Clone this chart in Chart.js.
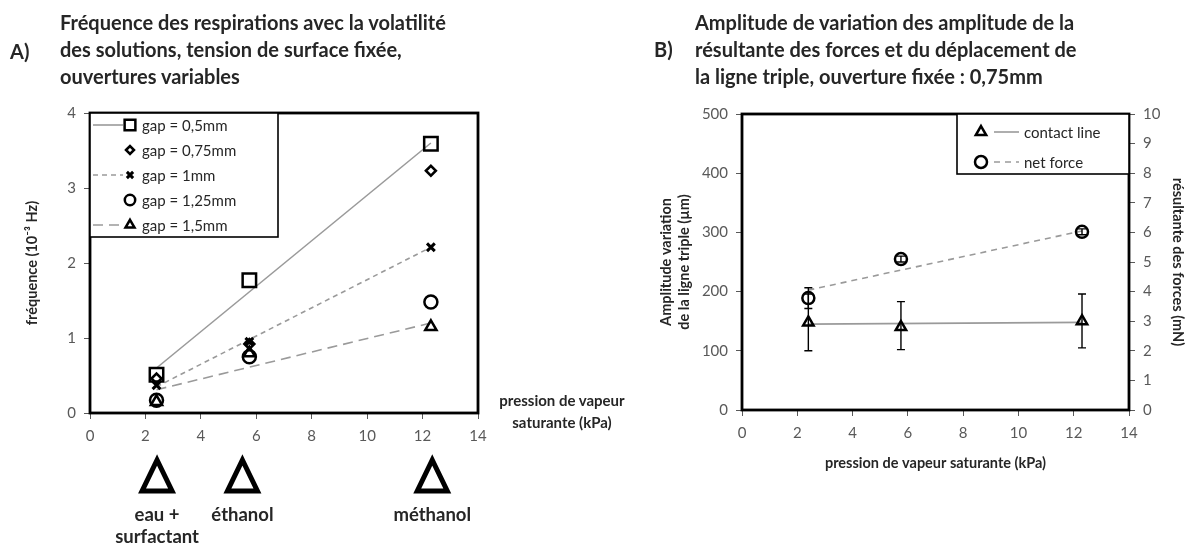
<!DOCTYPE html>
<html lang="fr">
<head>
<meta charset="UTF-8">
<title>Respirations - volatilité des solutions</title>
<script src="https://cdn.jsdelivr.net/npm/chart.js"></script>
<style>
    body { margin: 0; background: #fff; font-family: Lato, sans-serif; }
    #page { position: relative; width: 1195px; height: 546px; overflow: hidden; }
    .panel, .title, .axisNote { position: absolute; font-weight: bold; color: #262626; }
    .panel { font-size: 20px; line-height: 27px; }
    .title { font-size: 20px; line-height: 27px; white-space: nowrap; }
    .axisNote { font-size: 15px; line-height: 22px; text-align: center; }
    canvas { position: absolute; top: 0; }
</style>
</head>
<body>
<div id="page">
    <canvas id="chartA" width="640" height="546" style="left:0"></canvas>
    <canvas id="chartB" width="555" height="546" style="left:640px"></canvas>

    <div class="panel" style="left:10px; top:38px">A)</div>
    <div class="title" style="left:60px; top:9px">Fréquence des respirations avec la volatilité<br>des solutions, tension de surface fixée,<br>ouvertures variables</div>
    <div class="axisNote" style="left:482px; top:389px; width:160px">pression de vapeur<br>saturante (kPa)</div>

    <div class="panel" style="left:654px; top:36px">B)</div>
    <div class="title" style="left:695px; top:9px">Amplitude de variation des amplitude de la<br>résultante des forces et du déplacement de<br>la ligne triple, ouverture fixée : 0,75mm</div>
</div>

<script>
"use strict";

// pressions de vapeur saturante (kPa) des trois solutions
const pressures = [2.4, 5.75, 12.3];

// A) fréquence (10^-3 Hz) pour chaque ouverture
const gapLabels = ['gap = 0,5mm', 'gap = 0,75mm', 'gap = 1mm', 'gap = 1,25mm', 'gap = 1,5mm'];
const gap050 = [0.51, 1.77, 3.59];
const gap075 = [0.46, 0.92, 3.23];
const gap100 = [0.37, 0.95, 2.21];
const gap125 = [0.17, 0.75, 1.48];
const gap150 = [0.15, 0.80, 1.15];

// droites de tendance (extrémités)
const trendX = [2.4, 12.3];
const trend050 = [0.60, 3.60];
const trend100 = [0.35, 2.21];
const trend150 = [0.31, 1.20];

// solutions sous l'axe
const solventX = [2.42, 5.5, 12.35];
const solventNames = [['eau +', 'surfactant'], ['éthanol'], ['méthanol']];

// B) ligne triple (µm) et résultante des forces (mN)
const bLabels = ['contact line', 'net force'];
const contactLine = [148, 140, 150];
const contactLow = [100, 102, 105];
const contactHigh = [196, 183, 196];
const netForce = [3.78, 5.10, 6.02];
const netForceLow = [3.43, 5.00, 5.92];
const netForceHigh = [4.13, 5.20, 6.12];
const contactTrend = [145, 148];
const forceTrend = [4.05, 6.05];

const INK = '#000';
const TICK = '#595959';
const TREND = '#9a9a9a';

function points(xs, ys) {
    return xs.map((x, i) => ({ x: x, y: ys[i] }));
}

function markerSet(label, data, style, radius, width, yAxisID) {
    return {
        label: label, data: points(pressures, data), showLine: false,
        pointStyle: style, pointRadius: radius, pointHoverRadius: radius,
        pointBorderWidth: width, pointBorderColor: INK,
        pointBackgroundColor: 'rgba(255,255,255,0)', borderColor: INK,
        yAxisID: yAxisID || 'y'
    };
}

function trendSet(data, dash, yAxisID) {
    return {
        label: '', data: points(trendX, data), borderColor: TREND, borderWidth: 1.6,
        borderDash: dash, pointRadius: 0, fill: false, yAxisID: yAxisID || 'y'
    };
}

function drawMarker(ctx, ds, x, y, scale) {
    ctx.save();
    ctx.strokeStyle = INK;
    ctx.fillStyle = 'rgba(255,255,255,0)';
    ctx.lineWidth = ds.pointBorderWidth;
    Chart.helpers.drawPoint(ctx, {
        pointStyle: ds.pointStyle, rotation: 0,
        radius: ds.pointRadius * (scale || 1), borderWidth: ds.pointBorderWidth
    }, x, y);
    ctx.restore();
}

// cadre épais autour de la zone de tracé
const framePlugin = {
    id: 'frame',
    afterDatasetsDraw(chart) {
        const a = chart.chartArea, ctx = chart.ctx;
        ctx.save();
        ctx.strokeStyle = INK;
        ctx.lineWidth = 2.8;
        ctx.strokeRect(a.left, a.top, a.right - a.left, a.bottom - a.top);
        ctx.restore();
    }
};

// barres d'erreur
function errorBarPlugin(bars) {
    return {
        id: 'errorBars',
        afterDatasetsDraw(chart) {
            const ctx = chart.ctx;
            ctx.save();
            ctx.strokeStyle = INK;
            ctx.lineWidth = 1.4;
            bars.forEach(b => {
                const meta = chart.getDatasetMeta(b.dataset);
                const xs = chart.scales[meta.xAxisID], ys = chart.scales[meta.yAxisID];
                pressures.forEach((p, i) => {
                    const px = xs.getPixelForValue(p);
                    const lo = ys.getPixelForValue(b.low[i]);
                    const hi = ys.getPixelForValue(b.high[i]);
                    ctx.beginPath();
                    ctx.moveTo(px, lo); ctx.lineTo(px, hi);
                    ctx.moveTo(px - 4, lo); ctx.lineTo(px + 4, lo);
                    ctx.moveTo(px - 4, hi); ctx.lineTo(px + 4, hi);
                    ctx.stroke();
                });
            });
            ctx.restore();
        }
    };
}

// légende encadrée dans la zone de tracé
function boxLegendPlugin(entries, box) {
    return {
        id: 'boxLegend',
        afterDraw(chart) {
            const a = chart.chartArea, ctx = chart.ctx;
            const left = box.alignRight ? a.right - box.width : a.left;
            const top = a.top;
            ctx.save();
            ctx.fillStyle = '#fff';
            ctx.fillRect(left, top, box.width, box.height);
            ctx.strokeStyle = INK;
            ctx.lineWidth = 1.6;
            ctx.strokeRect(left, top, box.width, box.height);
            entries.forEach((e, i) => {
                const cy = top + box.firstRow + i * box.rowStep;
                const ds = chart.data.datasets;
                if (e.line !== undefined) {
                    const l = ds[e.line];
                    ctx.save();
                    ctx.strokeStyle = l.borderColor;
                    ctx.lineWidth = l.borderWidth;
                    ctx.setLineDash(l.borderDash || []);
                    ctx.beginPath();
                    ctx.moveTo(left + box.lineFrom, cy);
                    ctx.lineTo(left + box.lineTo, cy);
                    ctx.stroke();
                    ctx.restore();
                }
                drawMarker(ctx, ds[e.marker], left + box.markerX, cy, box.markerScale);
                ctx.fillStyle = '#262626';
                ctx.font = '15px Lato';
                ctx.textBaseline = 'middle';
                ctx.textAlign = 'left';
                ctx.fillText(e.label, left + box.textX, cy + 1);
            });
            ctx.restore();
        }
    };
}

// triangles et noms des solutions sous l'axe des abscisses
const solventPlugin = {
    id: 'solvents',
    afterDraw(chart) {
        const ctx = chart.ctx, xs = chart.scales.x, base = chart.chartArea.bottom;
        ctx.save();
        ctx.strokeStyle = INK;
        ctx.lineWidth = 5;
        ctx.lineJoin = 'miter';
        ctx.fillStyle = '#262626';
        ctx.font = 'bold 18.5px Lato';
        ctx.textAlign = 'center';
        ctx.textBaseline = 'middle';
        solventX.forEach((v, i) => {
            const px = xs.getPixelForValue(v);
            ctx.beginPath();
            ctx.moveTo(px, base + 47);
            ctx.lineTo(px + 15, base + 78);
            ctx.lineTo(px - 15, base + 78);
            ctx.closePath();
            ctx.stroke();
            solventNames[i].forEach((t, k) => ctx.fillText(t, px, base + 102 + k * 22));
        });
        ctx.restore();
    }
};

const tickFont = { family: 'Lato', size: 15 };
const titleFont = { family: 'Lato', size: 14.5, weight: 'bold' };

function axis(min, max, step, extra) {
    return Object.assign({
        type: 'linear', min: min, max: max,
        ticks: { stepSize: step, color: TICK, font: tickFont, maxRotation: 0, padding: 8 },
        grid: { drawOnChartArea: false, tickLength: 6, color: TICK, lineWidth: 1 },
        border: { display: false }
    }, extra);
}

new Chart(document.getElementById('chartA'), {
    type: 'line',
    data: {
        datasets: [
            markerSet(gapLabels[0], gap050, 'rect', 9.5, 2.5),
            markerSet(gapLabels[1], gap075, 'rectRot', 5, 2.5),
            markerSet(gapLabels[2], gap100, 'crossRot', 5.5, 3),
            markerSet(gapLabels[3], gap125, 'circle', 6.5, 2.5),
            markerSet(gapLabels[4], gap150, 'triangle', 6.5, 2.5),
            trendSet(trend050, []),
            trendSet(trend100, [5, 4]),
            trendSet(trend150, [10, 6])
        ]
    },
    options: {
        responsive: false,
        animation: false,
        layout: { padding: { top: 113, right: 162, left: 0, bottom: 0 } },
        plugins: { legend: { display: false }, tooltip: { enabled: false } },
        scales: {
            x: axis(0, 14, 2, { afterFit: s => { s.height = 133; } }),
            y: axis(0, 4, 1, {
                title: { display: true, text: 'fréquence (10⁻³ Hz)', font: titleFont, color: '#262626', padding: { top: 24, bottom: 0 } },
                afterFit: s => { s.width = 90; }
            })
        }
    },
    plugins: [
        framePlugin,
        boxLegendPlugin([
            { label: gapLabels[0], marker: 0, line: 5 },
            { label: gapLabels[1], marker: 1 },
            { label: gapLabels[2], marker: 2, line: 6 },
            { label: gapLabels[3], marker: 3 },
            { label: gapLabels[4], marker: 4, line: 7 }
        ], { width: 188, height: 124, firstRow: 12, rowStep: 25, lineFrom: 3, lineTo: 33, markerX: 40, textX: 52, markerScale: 0.8 }),
        solventPlugin
    ]
});

new Chart(document.getElementById('chartB'), {
    type: 'line',
    data: {
        datasets: [
            markerSet(bLabels[0], contactLine, 'triangle', 6, 2.5, 'y'),
            markerSet(bLabels[1], netForce, 'circle', 6, 2.5, 'y1'),
            trendSet(contactTrend, [], 'y'),
            trendSet(forceTrend, [6, 5], 'y1')
        ]
    },
    options: {
        responsive: false,
        animation: false,
        layout: { padding: { top: 114, right: 0, left: 0, bottom: 0 } },
        plugins: { legend: { display: false }, tooltip: { enabled: false } },
        scales: {
            x: axis(0, 14, 2, {
                title: { display: true, text: 'pression de vapeur saturante (kPa)', font: titleFont, color: '#262626', padding: { top: 0, bottom: 74 } },
                afterFit: s => { s.height = 136; }
            }),
            y: axis(0, 500, 100, {
                position: 'left',
                title: { display: true, text: ['Amplitude variation', 'de la ligne triple (µm)'], font: titleFont, color: '#262626', padding: { top: 18, bottom: 0 } },
                afterFit: s => { s.width = 102; }
            }),
            y1: axis(0, 10, 1, {
                position: 'right',
                title: { display: true, text: 'résultante des forces (mN)', font: titleFont, color: '#262626', padding: { top: 9, bottom: 0 } },
                afterFit: s => { s.width = 66; }
            })
        }
    },
    plugins: [
        errorBarPlugin([
            { dataset: 0, low: contactLow, high: contactHigh },
            { dataset: 1, low: netForceLow, high: netForceHigh }
        ]),
        framePlugin,
        boxLegendPlugin([
            { label: bLabels[0], marker: 0, line: 2 },
            { label: bLabels[1], marker: 1, line: 3 }
        ], { alignRight: true, width: 172, height: 60, firstRow: 18, rowStep: 30, lineFrom: 37, lineTo: 62, markerX: 24, textX: 67, markerScale: 1 })
    ]
});
</script>
</body>
</html>
